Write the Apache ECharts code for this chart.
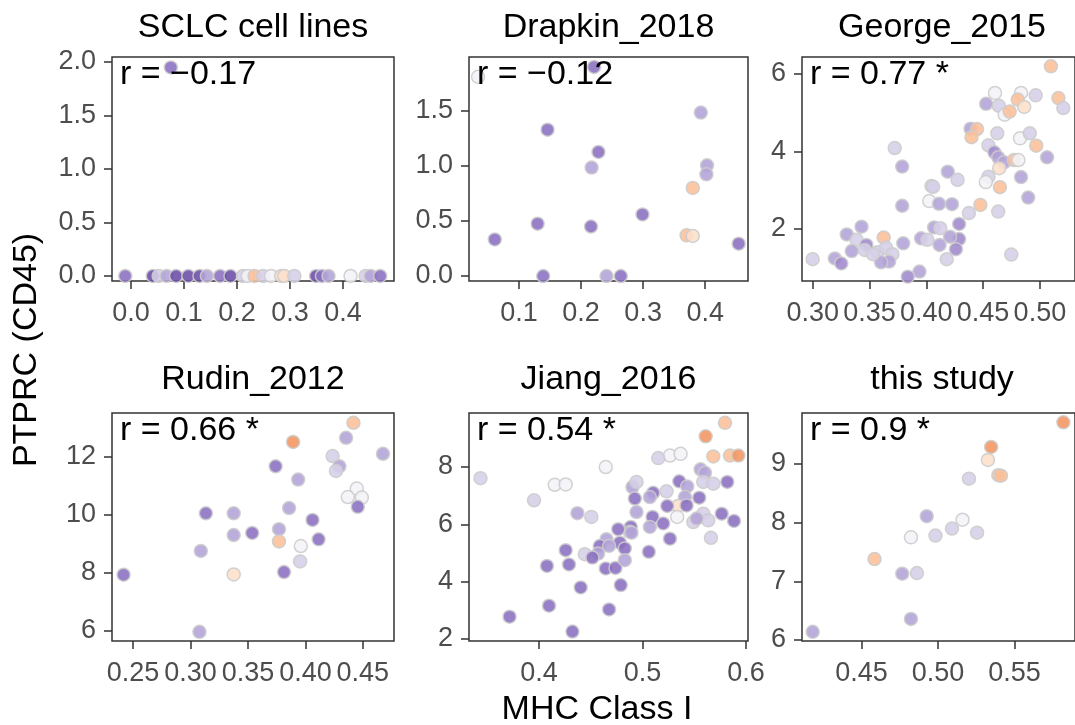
<!DOCTYPE html>
<html>
<head>
<meta charset="utf-8">
<script src="https://cdn.jsdelivr.net/npm/echarts@6/dist/echarts.min.js"></script>
<style>html,body{margin:0;padding:0;background:#fff}#chart{width:1075px;height:725px}</style>
</head>
<body>
<div id="chart"></div>
<script>
// ---- data: [MHC Class I, PTPRC, colour-code 1(purple)..8(orange)] ----
const sclc = [
  [0.075,1.95,2],[-0.011,0,2],[0.041,0,1],[0.052,0,4],[0.067,0,3],[0.085,0,1],[0.108,0,1],[0.129,0,1],
  [0.143,0,3],[0.168,0,2],[0.1875,0,1],[0.211,0,4],[0.22,0,5],[0.233,0,7],[0.249,0,4],[0.264,0,5],
  [0.283,0,6],[0.289,0,6],[0.308,0,4],[0.349,0,1],[0.36,0,2],[0.3725,0,3],[0.414,0,5],[0.4425,0,4],
  [0.452,0,3],[0.47,0,2]
];
const drapkin = [
  [0.034,1.81,5],[0.221,1.90,2],[0.393,1.485,3],[0.146,1.33,2],[0.228,1.127,2],[0.217,0.985,3],
  [0.403,1.006,3],[0.402,0.924,3],[0.380,0.80,7],[0.299,0.56,2],[0.130,0.476,2],[0.216,0.45,2],
  [0.061,0.333,2],[0.370,0.37,7],[0.380,0.364,6],[0.454,0.294,2],[0.139,0,2],[0.241,0,3],[0.264,0,2]
];
const george = [
  [0.5097,6.20,7],[0.5163,5.38,7],[0.5206,5.12,4],[0.4605,5.51,5],[0.4834,5.51,5],[0.4963,5.45,4],
  [0.4805,5.34,7],[0.4527,5.23,3],[0.4639,5.18,4],[0.469,4.95,5],[0.4734,5.03,7],[0.4862,5.15,6],
  [0.4390,4.59,3],[0.4447,4.58,7],[0.4398,4.37,7],[0.4625,4.47,4],[0.4825,4.34,5],[0.4911,4.47,4],
  [0.4968,4.15,7],[0.4547,4.16,4],[0.4599,3.98,2.5],[0.4633,3.85,3],[0.4685,3.72,3],[0.4771,3.78,7],
  [0.4811,3.78,5],[0.5063,3.85,3],[0.4642,3.57,6],[0.4547,3.35,4],[0.4524,3.21,5],[0.4834,3.34,3],
  [0.4648,3.08,7],[0.4897,2.81,3],[0.4633,2.45,4],[0.4476,2.62,7],[0.4375,2.41,4],[0.4289,2.13,2.5],
  [0.4289,1.74,2.5],[0.4261,1.48,2.5],[0.4748,1.34,4],[0.4189,3.48,3],[0.4275,3.27,4],[0.4046,3.11,4],
  [0.406,3.09,4],[0.4026,2.72,5],[0.4112,2.65,3],[0.4226,2.64,3],[0.4069,2.04,3],[0.4123,2.02,4],
  [0.4209,1.80,3],[0.4117,1.59,3],[0.418,1.22,4],[0.3954,1.76,3],[0.4009,1.72,4],[0.394,0.90,3],
  [0.3837,0.77,2.5],[0.3722,4.09,4],[0.3788,3.61,3],[0.3788,2.60,3],[0.3797,1.63,3],[0.3625,1.78,7],
  [0.343,2.06,3],[0.330,1.86,3],[0.3387,1.72,4],[0.3473,1.59,2.5],[0.3458,1.46,4],[0.3344,1.43,3],
  [0.3573,1.40,4],[0.3645,1.52,4],[0.3702,1.35,4],[0.3673,1.16,3],[0.3602,1.14,3],[0.3195,1.24,3],
  [0.3252,1.11,2.5],[0.300,1.22,4],[0.353,1.35,4]
];
const rudin = [
  [0.4418,13.18,7],[0.3893,12.52,8],[0.4354,12.66,3],[0.4675,12.11,3],[0.4237,12.03,4],[0.4296,11.68,3],
  [0.4266,11.52,4],[0.3741,11.68,2],[0.3937,11.22,3],[0.4447,10.91,5],[0.4369,10.62,5],[0.4491,10.60,5],
  [0.4456,10.28,2],[0.3858,10.24,3],[0.3134,10.06,2],[0.3376,10.06,3],[0.4062,9.83,2],[0.3376,9.31,3],
  [0.3537,9.38,2],[0.377,9.51,3],[0.4115,9.16,2],[0.377,9.09,7],[0.3960,8.93,5],[0.3954,8.40,4],
  [0.309,8.76,3],[0.3814,8.03,2],[0.3376,7.95,6],[0.2418,7.94,2],[0.3078,5.97,3]
];
const jiang = [
  [0.5797,9.54,7],[0.561,9.07,8],[0.5684,8.37,7],[0.5845,8.40,7],[0.5926,8.40,8],[0.5265,8.40,5],
  [0.5368,8.46,5],[0.5152,8.31,4],[0.4645,8.00,5],[0.3435,7.61,4],[0.4152,7.38,5],[0.4258,7.39,5],
  [0.3952,6.84,4],[0.4371,6.39,3],[0.4506,6.26,4],[0.4903,7.30,3],[0.4942,7.48,4],[0.4926,6.90,2],
  [0.4942,6.43,3],[0.5103,7.10,2],[0.5071,6.95,3],[0.5232,7.15,4],[0.5355,7.50,2],[0.5432,7.32,3],
  [0.541,6.95,3],[0.5345,6.64,6],[0.5426,6.66,2],[0.5548,6.93,2],[0.5561,7.92,3],[0.5603,7.80,3],
  [0.5587,7.48,4],[0.5684,7.42,4],[0.5819,7.48,2],[0.5239,6.64,2],[0.5335,6.26,5],[0.5097,6.26,2],
  [0.52,6.03,2],[0.5071,5.91,3],[0.549,6.08,4],[0.5587,6.37,4],[0.5635,6.14,4],[0.5523,6.20,3],
  [0.5765,6.37,2],[0.5884,6.12,2],[0.5661,5.53,4],[0.5265,5.50,2],[0.5061,5.04,2],[0.4887,5.91,2],
  [0.4877,5.74,3],[0.4765,5.83,2],[0.4894,5.71,3],[0.4652,5.48,3],[0.4781,5.36,2],[0.4829,5.16,2],
  [0.4587,5.24,2],[0.4677,5.25,3],[0.4571,4.98,3],[0.4442,4.96,4],[0.4516,4.84,2],[0.4258,5.10,2],
  [0.429,4.60,2],[0.4077,4.55,2],[0.4645,4.46,2],[0.4739,4.48,2],[0.4829,4.75,3],[0.4403,3.80,2],
  [0.479,3.88,2],[0.4097,3.16,2],[0.4677,3.03,2],[0.3716,2.78,2],[0.4323,2.26,2]
];
const thisStudy = [
  [0.5819,9.71,8],[0.5347,9.29,8],[0.5326,9.07,6],[0.5394,8.81,7],[0.5411,8.80,7],[0.5202,8.75,4],
  [0.4926,8.11,3],[0.516,8.05,5],[0.5091,7.90,4],[0.5255,7.83,4],[0.4983,7.78,4],[0.4823,7.75,5],
  [0.4585,7.38,7],[0.4766,7.13,3],[0.4862,7.14,4],[0.4823,6.36,3],[0.4181,6.14,3]
];

const panelData = [sclc, drapkin, george, rudin, jiang, thisStudy];
const titles = ['SCLC cell lines', 'Drapkin_2018', 'George_2015', 'Rudin_2012', 'Jiang_2016', 'this study'];
const rLabels = ['r = \u22120.17', 'r = \u22120.12', 'r = 0.77 *', 'r = 0.66 *', 'r = 0.54 *', 'r = 0.9 *'];

const xTicks = [[0,0.1,0.2,0.3,0.4],[0.1,0.2,0.3,0.4],[0.30,0.35,0.40,0.45,0.50],[0.25,0.30,0.35,0.40,0.45],[0.4,0.5,0.6],[0.45,0.50,0.55]];
const xDecimals = [1,1,2,2,1,2];
const yTicks = [[0,0.5,1,1.5,2],[0,0.5,1,1.5],[2,4,6],[6,8,10,12],[2,4,6,8],[6,7,8,9]];
const yDecimals = [1,1,0,0,0,0];

const xRange = [[-0.036,0.496],[0.0194,0.469],[0.2906,0.5309],[0.2317,0.4771],[0.3324,0.6019],[0.4111,0.5895]];
const yRange = [[-0.047,2.047],[-0.045,1.99],[0.658,6.439],[5.655,13.517],[1.93,9.884],[5.983,9.869]];

const xTitle = 'MHC Class I';
const yTitle = 'PTPRC (CD45)';

// ---- layout / style ----
const FONT = '"Liberation Sans", Arial, Helvetica, sans-serif';
const colLeft = [112, 469, 802];
const colWidth = [282, 279, 280];
const rowTop = [57, 413];
const rowHeight = [224, 228];
const palette = ['#6b4ca6','#8a6fc0','#b3a3d7','#d6cfe8','#f4f2f7','#fde0cb','#fbbf98','#f29560'];

const grids = [], xAxes = [], yAxes = [], series = [], graphics = [];
for (let i = 0; i < 6; i++) {
  const r = Math.floor(i / 3), c = i % 3;
  grids.push({left: colLeft[c], top: rowTop[r], width: colWidth[c], height: rowHeight[r],
    show: true, borderColor: '#333', borderWidth: 1.5, backgroundColor: '#fff'});
  const tickStyle = {show: true, length: 8, lineStyle: {color: '#333', width: 1.5}};
  xAxes.push({type: 'value', gridIndex: i, min: xRange[i][0], max: xRange[i][1], position: 'bottom',
    axisLine: {show: false, onZero: false}, splitLine: {show: false},
    axisTick: Object.assign({customValues: xTicks[i]}, tickStyle),
    axisLabel: {customValues: xTicks[i], color: '#4d4d4d', fontSize: 27, fontFamily: FONT, margin: 19,
      formatter: (v => Number(v).toFixed(xDecimals[i]))}});
  yAxes.push({type: 'value', gridIndex: i, min: yRange[i][0], max: yRange[i][1], position: 'left',
    axisLine: {show: false, onZero: false}, splitLine: {show: false},
    axisTick: Object.assign({customValues: yTicks[i]}, tickStyle),
    axisLabel: {customValues: yTicks[i], color: '#4d4d4d', fontSize: 27, fontFamily: FONT, margin: 16,
      formatter: (v => Number(v).toFixed(yDecimals[i]))}});
  series.push({type: 'scatter', xAxisIndex: i, yAxisIndex: i, data: panelData[i],
    symbolSize: 13, itemStyle: {opacity: 0.88, borderColor: '#cccccc', borderWidth: 1.5}});
  const cx = colLeft[c] + colWidth[c] / 2;
  graphics.push({type: 'text', x: cx, y: r === 0 ? 28 : 380, z: 100,
    style: {text: titles[i], font: '34px ' + FONT, fill: '#000', textAlign: 'center', textVerticalAlign: 'middle'}});
  graphics.push({type: 'text', x: colLeft[c] + 8, y: r === 0 ? 75 : 431, z: 100,
    style: {text: rLabels[i], font: '34px ' + FONT, fill: '#000', textAlign: 'left', textVerticalAlign: 'middle'}});
}
graphics.push({type: 'text', x: 597, y: 710, z: 100,
  style: {text: xTitle, font: '34px ' + FONT, fill: '#000', textAlign: 'center', textVerticalAlign: 'middle'}});
graphics.push({type: 'text', x: 27, y: 350, rotation: Math.PI / 2, z: 100,
  style: {text: yTitle, font: '34px ' + FONT, fill: '#000', textAlign: 'center', textVerticalAlign: 'middle'}});

const chart = echarts.init(document.getElementById('chart'), null, {renderer: 'canvas'});
chart.setOption({
  animation: false,
  backgroundColor: '#fff',
  grid: grids, xAxis: xAxes, yAxis: yAxes, series: series,
  visualMap: {type: 'continuous', show: false, min: 1, max: 8, dimension: 2,
    seriesIndex: [0,1,2,3,4,5], inRange: {color: palette}},
  graphic: graphics
});
</script>
</body>
</html>
